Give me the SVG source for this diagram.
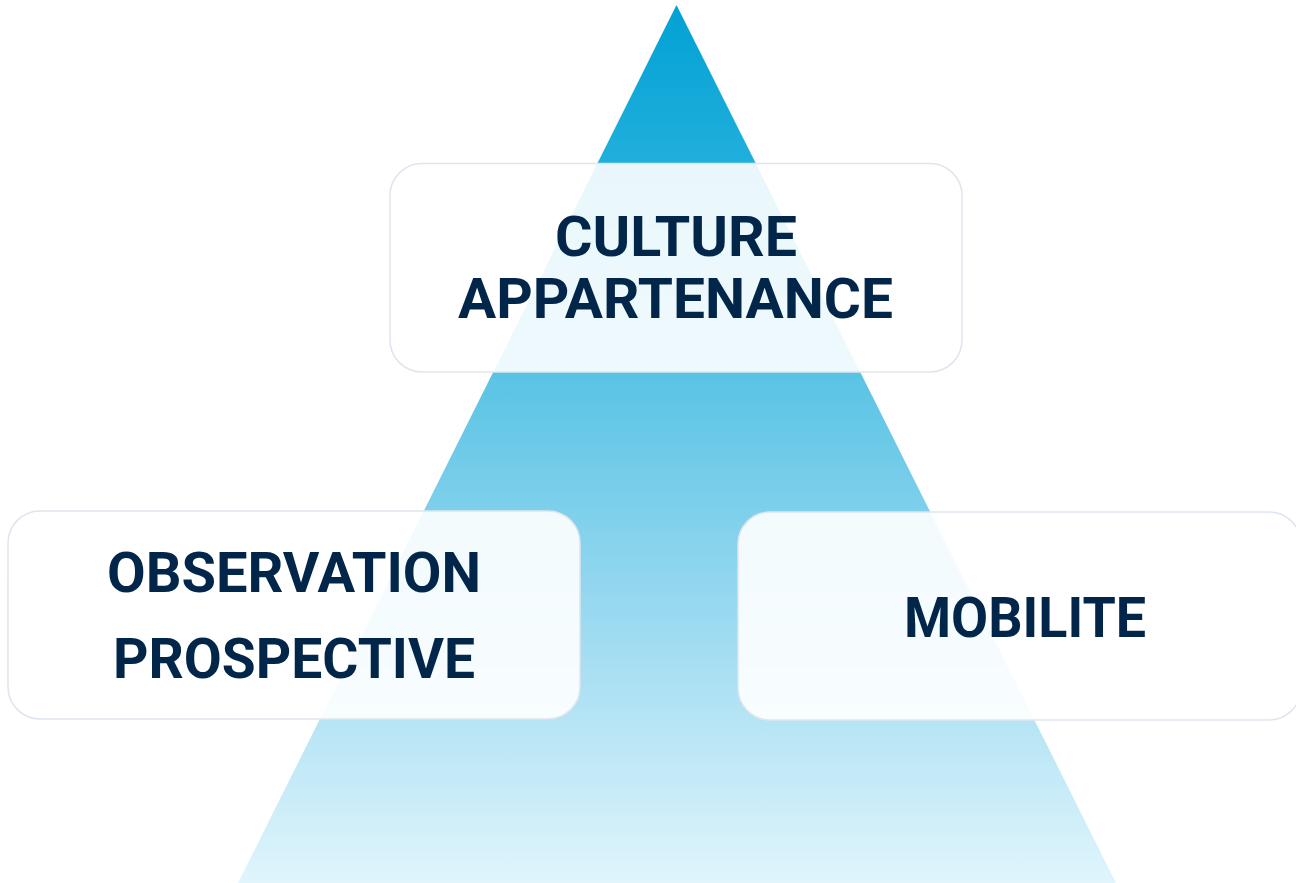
<svg xmlns="http://www.w3.org/2000/svg" width="1296" height="883" viewBox="0 0 1296 883">
<defs>
<linearGradient id="tri" x1="0" y1="5" x2="0" y2="883" gradientUnits="userSpaceOnUse">
<stop offset="0" stop-color="#02a1d4"/>
<stop offset="0.19" stop-color="#22b0dc"/>
<stop offset="0.43" stop-color="#5cc4e5"/>
<stop offset="0.7" stop-color="#9bdaf0"/>
<stop offset="1" stop-color="#e0f5fc"/>
</linearGradient>
<style>
.box{fill:#ffffff;fill-opacity:0.9;stroke:#dfe5ee;stroke-width:1.5}
.lbl{font-family:Roboto,"Liberation Sans",sans-serif;font-weight:700;font-size:56px;fill:#022649;text-anchor:middle}
</style>
</defs>
<rect width="1296" height="883" fill="#ffffff"/>
<polygon id="pyramid" points="676.5,5 1116,883 238,883" fill="url(#tri)"/>
<g id="connectors"/>
<g id="node-culture">
<rect class="box" x="390" y="163.5" width="572" height="208.5" rx="32"/>
<text class="lbl" x="676" y="256" textLength="242" lengthAdjust="spacingAndGlyphs">CULTURE</text>
<text class="lbl" x="675.5" y="318" textLength="435" lengthAdjust="spacingAndGlyphs">APPARTENANCE</text>
</g>
<g id="node-observation">
<rect class="box" x="8" y="511" width="572" height="208" rx="32"/>
<text class="lbl" x="294" y="592" textLength="374" lengthAdjust="spacingAndGlyphs">OBSERVATION</text>
<text class="lbl" x="294" y="678" textLength="362" lengthAdjust="spacingAndGlyphs">PROSPECTIVE</text>
</g>
<g id="node-mobilite">
<rect class="box" x="738" y="512" width="563" height="208" rx="32"/>
<text class="lbl" x="1025" y="637" textLength="242" lengthAdjust="spacingAndGlyphs">MOBILITE</text>
</g>
</svg>
